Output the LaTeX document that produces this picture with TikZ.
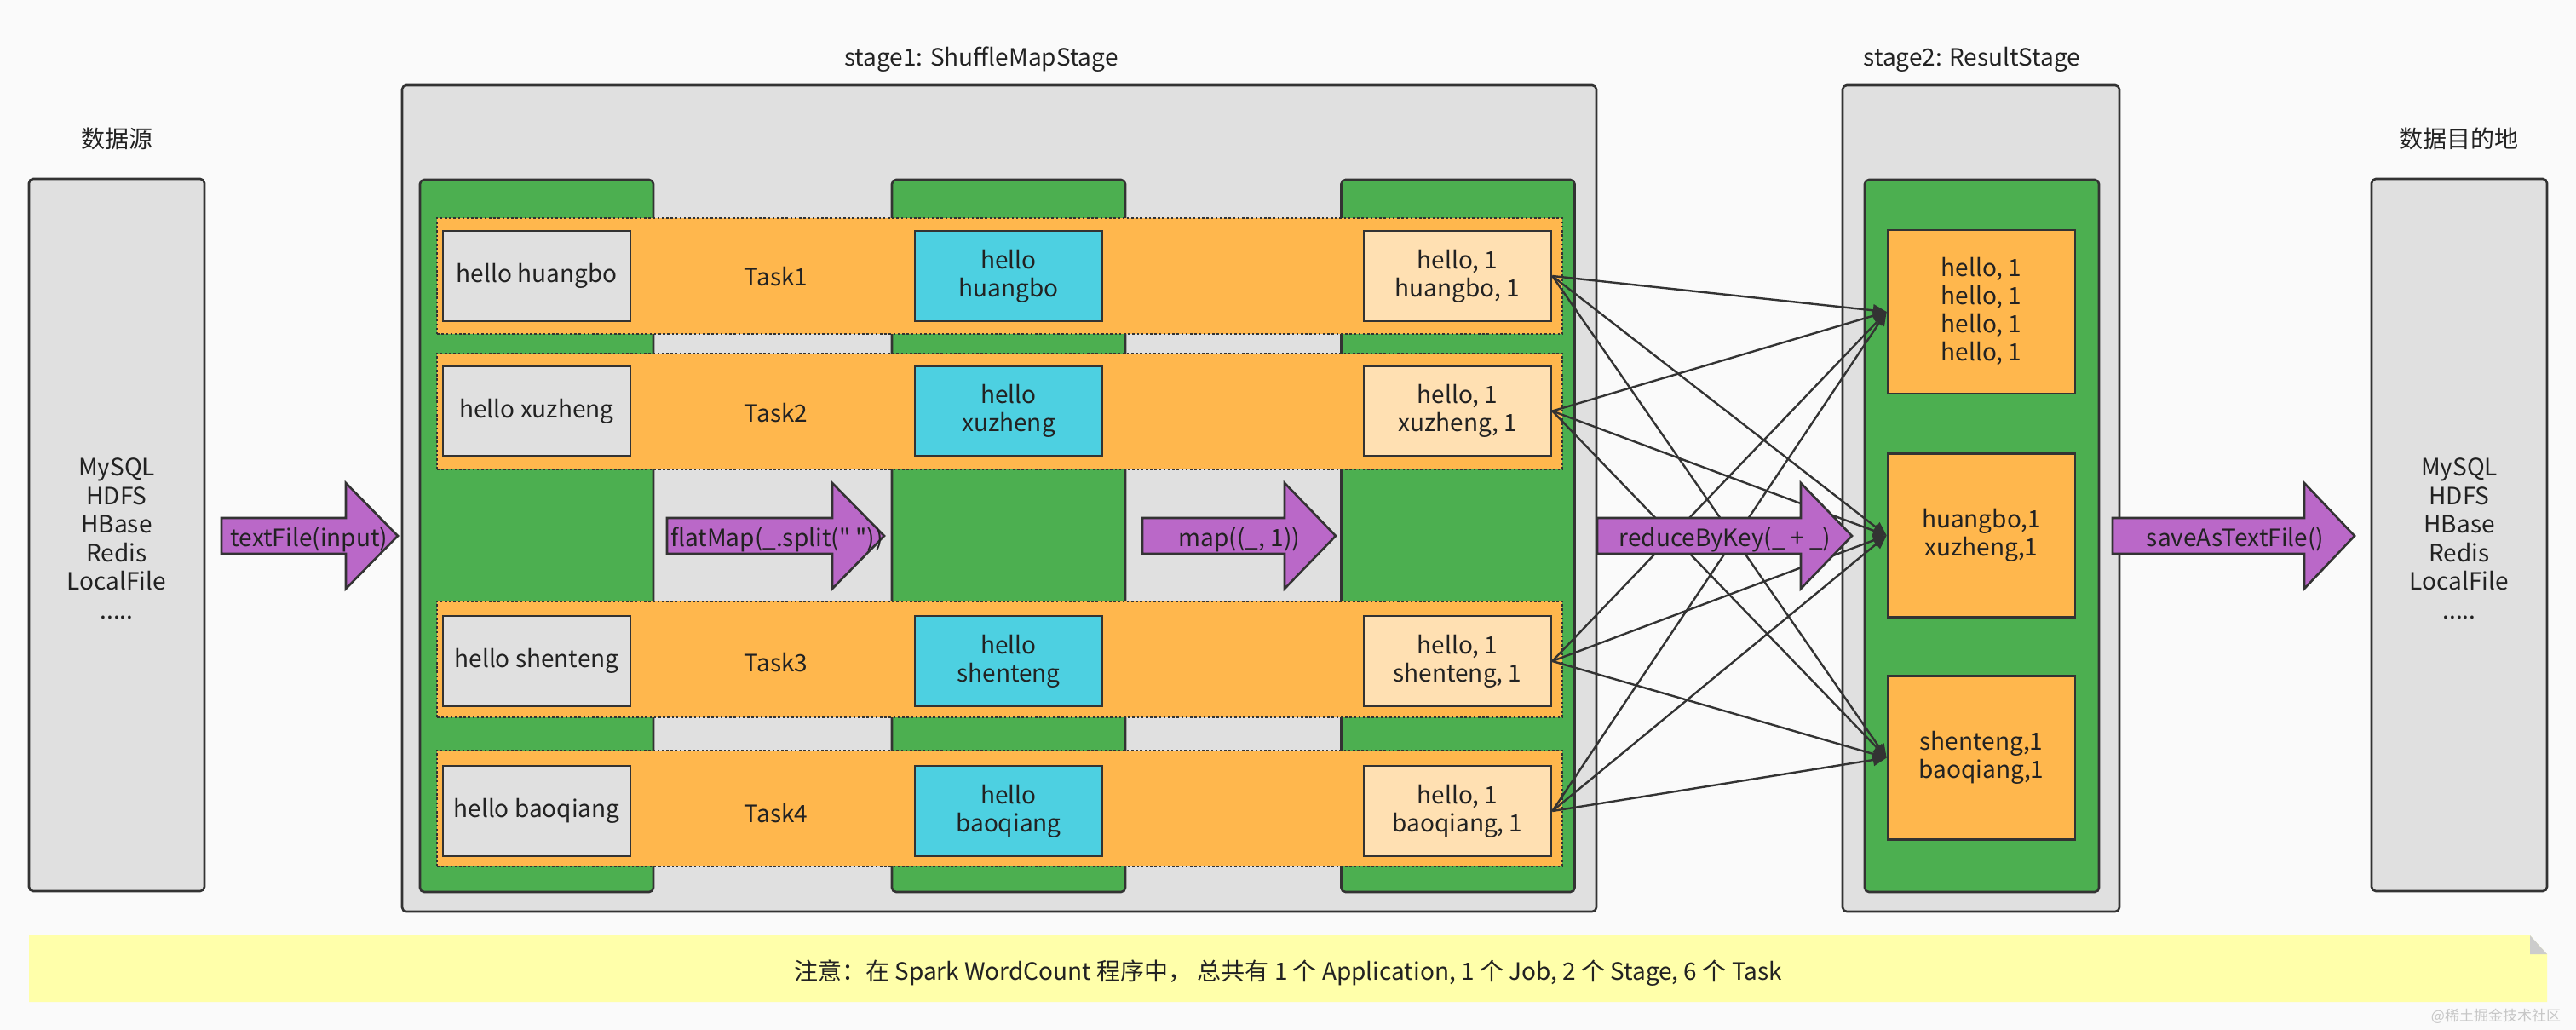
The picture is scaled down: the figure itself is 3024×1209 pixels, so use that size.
\documentclass[tikz,border=0pt]{standalone}
\usepackage{fontspec}
\setmainfont{Noto Sans CJK SC}
\setmonofont{Noto Sans CJK SC}
\usetikzlibrary{arrows.meta}
\definecolor{bgc}{HTML}{FAFAFA}
\definecolor{grayc}{HTML}{E0E0E0}
\definecolor{greenc}{HTML}{4CAF50}
\definecolor{orangec}{HTML}{FFB74D}
\definecolor{lorangec}{HTML}{FFE0B2}
\definecolor{cyanc}{HTML}{4DD0E1}
\definecolor{purplec}{HTML}{BA68C8}
\definecolor{yellowc}{HTML}{FFFFAA}
\definecolor{bordc}{HTML}{333333}
\definecolor{textc}{HTML}{222222}
\newcommand{\barrow}[6]{%
  \draw[arrowshape] (#2,608) -- (#3,608) -- (#3,567) -- (#4,629) -- (#3,691) -- (#3,650) -- (#2,650) -- cycle;
  \node[inner sep=0pt, text=textc] (#1) at (#5,633) {#6};
}
\newcommand{\sq}{\texttt{"}}
\begin{document}
\begin{tikzpicture}[x=0.5pt,y=-0.5pt,
  font=\fontsize{14pt}{16.5pt}\selectfont,
  every node/.style={text=textc},
  boxline/.style={draw=bordc, line width=1.3pt},
  stagebox/.style={boxline, fill=grayc, rounded corners=2.5pt, inner sep=0pt},
  colbox/.style={boxline, fill=greenc, rounded corners=2.5pt, inner sep=0pt, minimum width=137pt, minimum height=418pt},
  band/.style={fill=orangec, draw=bordc, line width=1pt, dash pattern=on 1.3pt off 1.3pt, inner sep=0pt, minimum width=660.5pt, minimum height=68pt},
  cell/.style={boxline, inner sep=0pt, minimum width=110pt, minimum height=53pt, align=center},
  resbox/.style={boxline, fill=orangec, inner sep=0pt, minimum width=110pt, minimum height=96pt, align=center},
  lbl/.style={inner sep=0pt},
  arrowshape/.style={draw=bordc, line width=1.3pt, fill=purplec},
  conn/.style={draw=bordc, line width=1.2pt, -{Triangle[length=8pt,width=7pt]}}
]
\useasboundingbox (0,0) rectangle (3024,1209);
\fill[bgc] (0,0) rectangle (3024,1209);

% top labels
\node[lbl] (st1) at (1152,70) {stage1: ShuffleMapStage};
\node[lbl] (st2) at (2315,70) {stage2: ResultStage};
\node[lbl] (srcl) at (137,163) {数据源};
\node[lbl] (dstl) at (2886,163) {数据目的地};
\node[lbl] (l1) at (630,163) {LineRDD};
\node[lbl] (l2) at (1184,163) {WordRDD};
\node[lbl] (l3) at (1711,163) {WordAndOneRDD};
\node[lbl] (l4) at (2327,163) {WordCountRDD};

% source and destination
\node[stagebox, minimum width=103pt, minimum height=418pt] (src) at (137,628) {};
\node[lbl, align=center, font=\fontsize{14pt}{16.75pt}\selectfont] (srct) at (137,632) {MySQL\\HDFS\\HBase\\Redis\\LocalFile\\.....};
\node[stagebox, minimum width=103pt, minimum height=418pt] (dst) at (2887,628) {};
\node[lbl, align=center, font=\fontsize{14pt}{16.75pt}\selectfont] (dstt) at (2887,632) {MySQL\\HDFS\\HBase\\Redis\\LocalFile\\.....};

% stages
\node[stagebox, minimum width=701pt, minimum height=485pt] (s1) at (1173,585) {};
\node[stagebox, minimum width=162.5pt, minimum height=485pt] (s2) at (2325.5,585) {};

% green columns
\node[colbox] (g1) at (630,629) {};
\node[colbox] (g2) at (1184,629) {};
\node[colbox] (g3) at (1711.5,629) {};
\node[colbox, minimum width=137.5pt] (g4) at (2326.5,629) {};

% task bands
\node[band] (b1) at (1173.5,324) {};
\node[band] (b2) at (1173.5,482.5) {};
\node[band] (b3) at (1173.5,773.5) {};
\node[band] (b4) at (1173.5,948.5) {};

\node[lbl] (t1) at (911,325) {Task1};
\node[lbl] (t2) at (911,485) {Task2};
\node[lbl] (t3) at (911,778) {Task3};
\node[lbl] (t4) at (911,955) {Task4};

% cells
\node[cell, fill=grayc] (a1) at (630,324) {hello huangbo};
\node[cell, fill=grayc] (a2) at (630,482.5) {hello xuzheng};
\node[cell, fill=grayc] (a3) at (630,776) {hello shenteng};
\node[cell, fill=grayc] (a4) at (630,952) {hello baoqiang};

\node[cell, fill=cyanc] (w1) at (1184,324) {hello\\huangbo};
\node[cell, fill=cyanc] (w2) at (1184,482.5) {hello\\xuzheng};
\node[cell, fill=cyanc] (w3) at (1184,776) {hello\\shenteng};
\node[cell, fill=cyanc] (w4) at (1184,952) {hello\\baoqiang};

\node[cell, fill=lorangec] (p1) at (1711,324) {hello, 1\\huangbo, 1};
\node[cell, fill=lorangec] (p2) at (1711,482.5) {hello, 1\\xuzheng, 1};
\node[cell, fill=lorangec] (p3) at (1711,776) {hello, 1\\shenteng, 1};
\node[cell, fill=lorangec] (p4) at (1711,952) {hello, 1\\baoqiang, 1};

% result boxes
\node[resbox] (r1) at (2326,366) {hello, 1\\hello, 1\\hello, 1\\hello, 1};
\node[resbox] (r2) at (2326,628.5) {huangbo,1\\xuzheng,1};
\node[resbox] (r3) at (2326,889.5) {shenteng,1\\baoqiang,1};

% shuffle connectors
\foreach \s in {1,2,3,4}{
  \foreach \t in {1,2,3}{
    \draw[conn] (p\s.east) -- (r\t.west);
  }
}

% block arrows
\barrow{ta}{260}{406}{467}{363}{textFile(input)}
\barrow{fa}{783}{977}{1038}{912}{flatMap(\_.split(\sq\ \sq))}
\barrow{ma}{1341}{1508}{1568}{1455}{map((\_, 1))}
\barrow{ra}{1875}{2114}{2174}{2025}{reduceByKey(\_ + \_)}
\barrow{sa}{2480}{2705}{2764}{2624}{saveAsTextFile()}

% note
\fill[yellowc] (34,1098) -- (2970,1098) -- (2990,1120) -- (2990,1176) -- (34,1176) -- cycle;
\fill[gray!40] (2970,1098) -- (2990,1120) -- (2970,1120) -- cycle;
\node[lbl] (note) at (1512,1142) {注意：在 Spark WordCount 程序中， 总共有 1 个 Application, 1 个 Job, 2 个 Stage, 6 个 Task};
\node[lbl, text=gray!45, font=\fontsize{8.5pt}{10pt}\selectfont] (wm) at (2930,1193) {@稀土掘金技术社区};
\end{tikzpicture}
\end{document}
